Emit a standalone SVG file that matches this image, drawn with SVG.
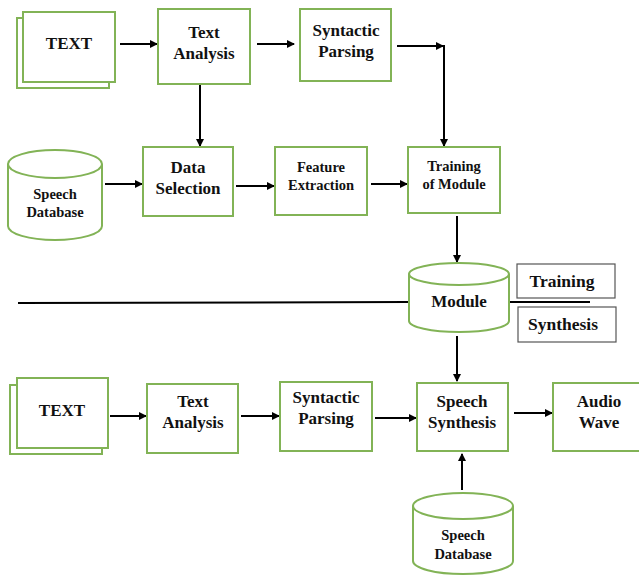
<svg xmlns="http://www.w3.org/2000/svg" width="639" height="575" viewBox="0 0 639 575">
<style>
.n{fill:#fff;stroke:#82b356;stroke-width:2}
.b{fill:#fff;stroke:#555;stroke-width:1.2}
.t{font-family:"Liberation Serif","Times New Roman",serif;font-weight:bold;fill:#111;text-anchor:middle}
.s17{font-size:17.5px}.s16{font-size:17px}.s15{font-size:17px}.s13{font-size:14.5px}.s12{font-size:14.5px}
.c{fill:none;stroke:#000;stroke-width:2}
.a{marker-end:url(#ah)}
</style>
<defs>
<marker id="ah" markerWidth="8" markerHeight="8" refX="7" refY="4" orient="auto" markerUnits="userSpaceOnUse">
<path d="M0,0 L8,4 L0,8 Z" fill="#000"/>
</marker>
</defs>
<rect width="639" height="575" fill="#fff"/>

<g id="connectors">
<line class="c a" x1="120" y1="44" x2="157" y2="44"/>
<line class="c a" x1="257" y1="44" x2="294" y2="44"/>
<line class="c a" x1="397" y1="46" x2="443" y2="46"/>
<line class="c a" x1="444" y1="45" x2="444" y2="146"/>
<line class="c a" x1="200" y1="85" x2="200" y2="146"/>
<line class="c a" x1="105" y1="184" x2="142" y2="184"/>
<line class="c a" x1="236" y1="186" x2="274" y2="186"/>
<line class="c a" x1="371" y1="184" x2="407" y2="184"/>
<line class="c a" x1="457" y1="216" x2="457" y2="262"/>
<line class="c" x1="18" y1="303" x2="408" y2="302"/>
<line class="c" x1="510" y1="302" x2="590" y2="302"/>
<line class="c a" x1="457" y1="336" x2="457" y2="381"/>
<line class="c a" x1="110" y1="416" x2="146" y2="416"/>
<line class="c a" x1="241" y1="416" x2="279" y2="416"/>
<line class="c a" x1="375" y1="418" x2="416" y2="418"/>
<line class="c a" x1="514" y1="413" x2="552" y2="413"/>
<line class="c a" x1="462" y1="490" x2="462" y2="454"/>
</g>

<g id="text-top">
<rect class="n" x="17" y="18" width="92" height="70"/>
<rect class="n" x="23" y="12" width="92" height="70"/>
<text class="t s16" x="69" y="49">TEXT</text>
</g>
<g id="text-analysis-top">
<rect class="n" x="158" y="9" width="92" height="75"/>
<text class="t s16" x="204" y="38">Text</text>
<text class="t s16" x="204" y="59">Analysis</text>
</g>
<g id="syntactic-parsing-top">
<rect class="n" x="300" y="9" width="91" height="72"/>
<text class="t s15" x="346" y="36">Syntactic</text>
<text class="t s15" x="346" y="57">Parsing</text>
</g>
<g id="speech-db-top">
<path class="n" d="M8,164 A47,14 0 0 1 102,164 L102,226 A47,14 0 0 1 8,226 Z"/>
<path class="n" d="M8,164 A47,14 0 0 0 102,164" fill="none"/>
<text class="t s13" x="55" y="199">Speech</text>
<text class="t s13" x="55" y="217">Database</text>
</g>
<g id="data-selection">
<rect class="n" x="143" y="147" width="90" height="69"/>
<text class="t s16" x="188" y="173">Data</text>
<text class="t s16" x="188" y="194">Selection</text>
</g>
<g id="feature-extraction">
<rect class="n" x="275" y="147" width="92" height="68"/>
<text class="t s12" x="321" y="172">Feature</text>
<text class="t s12" x="321" y="190">Extraction</text>
</g>
<g id="training-of-module">
<rect class="n" x="408" y="147" width="92" height="66"/>
<text class="t s12" x="454" y="171">Training</text>
<text class="t s12" x="454" y="189">of Module</text>
</g>
<g id="module">
<path class="n" d="M409,274 A50,11 0 0 1 509,274 L509,321 A50,11 0 0 1 409,321 Z"/>
<path class="n" d="M409,274 A50,11 0 0 0 509,274" fill="none"/>
<text class="t s15" x="459" y="307">Module</text>
</g>
<g id="label-training">
<rect class="b" x="517" y="264" width="98" height="34"/>
<text class="t s17" x="562" y="287">Training</text>
</g>
<g id="label-synthesis">
<rect class="b" x="518" y="307" width="98" height="35"/>
<text class="t s17" x="563" y="330">Synthesis</text>
</g>
<g id="text-bottom">
<rect class="n" x="10" y="385" width="92" height="69"/>
<rect class="n" x="17" y="378" width="91" height="70"/>
<text class="t s16" x="62" y="416">TEXT</text>
</g>
<g id="text-analysis-bottom">
<rect class="n" x="147" y="384" width="91" height="69"/>
<text class="t s16" x="193" y="407">Text</text>
<text class="t s16" x="193" y="428">Analysis</text>
</g>
<g id="syntactic-parsing-bottom">
<rect class="n" x="280" y="382" width="92" height="69"/>
<text class="t s15" x="326" y="403">Syntactic</text>
<text class="t s15" x="326" y="424">Parsing</text>
</g>
<g id="speech-synthesis">
<rect class="n" x="417" y="383" width="91" height="68"/>
<text class="t s16" x="462" y="407">Speech</text>
<text class="t s16" x="462" y="428">Synthesis</text>
</g>
<g id="audio-wave">
<rect class="n" x="553" y="383" width="90" height="68"/>
<text class="t s16" x="599" y="407">Audio</text>
<text class="t s16" x="599" y="428">Wave</text>
</g>
<g id="speech-db-bottom">
<path class="n" d="M413,506 A50,13 0 0 1 513,506 L513,561 A50,13 0 0 1 413,561 Z"/>
<path class="n" d="M413,506 A50,13 0 0 0 513,506" fill="none"/>
<text class="t s13" x="463" y="540">Speech</text>
<text class="t s13" x="463" y="559">Database</text>
</g>
</svg>
